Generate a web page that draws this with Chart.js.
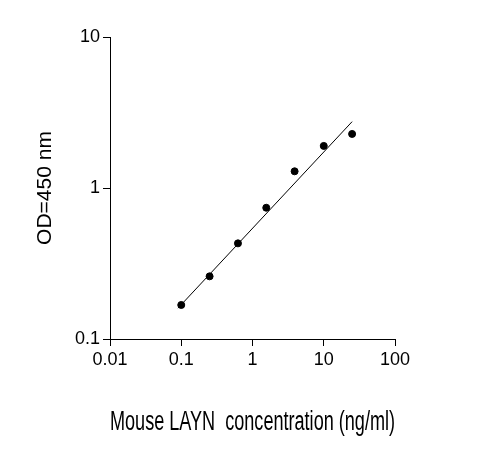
<!DOCTYPE html>
<html><head><meta charset="utf-8">
<script src="https://cdn.jsdelivr.net/npm/chart.js@4/dist/chart.umd.min.js"></script>
<style>body{margin:0;background:#fff}#wrap{width:490px;height:469px}</style>
</head><body><div id="wrap"><canvas id="c"></canvas></div>
<script>
const concentration = [0.1, 0.25, 0.625, 1.56, 3.9, 10, 25];
const odValues = [0.168, 0.26, 0.43, 0.74, 1.29, 1.9, 2.28];
const fitX = [0.09, 25];
const fitY = [0.16, 2.75];
const xTicks = [0.01, 0.1, 1, 10, 100];
const yTicks = [0.1, 1, 10];

const decadeTicks = list => scale => { scale.ticks = list.map(v => ({ value: v })); };
const family = 'Arial, "Liberation Sans", sans-serif';
const font = { family, size: 18 };

new Chart(document.getElementById('c'), {
    type: 'scatter',
    data: {
        datasets: [
            {
                data: concentration.map((x, i) => ({ x, y: odValues[i] })),
                backgroundColor: '#000', borderColor: '#000', pointRadius: 3.5
            },
            {
                type: 'line',
                data: fitX.map((x, i) => ({ x, y: fitY[i] })),
                borderColor: '#000', borderWidth: 1, pointRadius: 0, fill: false
            }
        ]
    },
    options: {
        responsive: true, maintainAspectRatio: false, animation: false,
        layout: { padding: { left: 33, top: 37, right: 95, bottom: 30 } },
        plugins: { legend: { display: false }, tooltip: { enabled: false } },
        scales: {
            x: {
                type: 'logarithmic', min: 0.01, max: 100,
                afterBuildTicks: decadeTicks(xTicks),
                afterFit: s => { s.height = 130 - 30; },
                grid: { drawOnChartArea: false, tickLength: 7, color: '#000' },
                border: { color: '#000' },
                ticks: { color: '#000', font, maxRotation: 0, callback: v => String(v) },
                title: { display: true, text: 'Mouse LAYN  concentration (ng/ml)', color: '#000',
                    font: { family, size: 27 }, padding: { top: 0, bottom: 0 } }
            },
            y: {
                type: 'logarithmic', min: 0.1, max: 10,
                afterBuildTicks: decadeTicks(yTicks),
                afterFit: s => { s.width = 110 - 33; },
                grid: { drawOnChartArea: false, tickLength: 7, color: '#000' },
                border: { color: '#000' },
                ticks: { color: '#000', font, callback: v => String(v) },
                title: { display: true, text: 'OD=450 nm', color: '#000', font: { family, size: 21 },
                    padding: { top: 0, bottom: 0 } }
            }
        }
    }
});
</script></body></html>
